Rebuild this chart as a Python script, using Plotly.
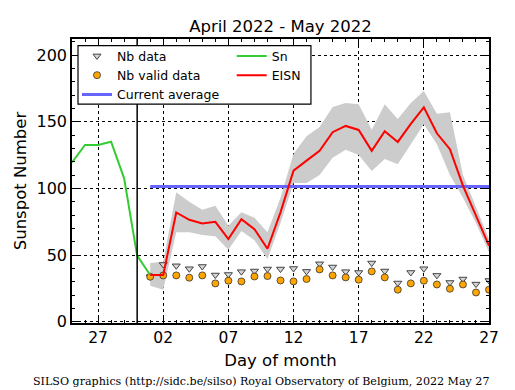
import plotly.graph_objects as go
import pandas as pd

# ---------------- data ----------------
sn_dates = pd.date_range("2022-04-25", "2022-05-01", freq="D")
sn_values = [119.5, 132.5, 132.5, 135.0, 107.5, 49.5, 35.0]

days = pd.date_range("2022-05-01", "2022-05-27", freq="D")
eisn = [35.0, 35.0, 81.9, 76.4, 73.6, 74.9, 61.9, 76.9, 69.4, 54.7,
        82.0, 113.3, 120.8, 128.1, 142.1, 146.8, 143.8, 128.1, 142.8, 134.8,
        148.3, 160.8, 141.3, 129.4, 102.0, 80.0, 57.0]
eisn_upper = [44, 45, 97, 90, 84, 87, 72, 82, 78, 67,
              93, 126, 139, 146, 161, 164, 163, 144, 163, 152,
              164, 173, 156, 157, 110, 86, 62]
eisn_lower = [27, 24, 67, 67, 65, 64, 54, 68, 61, 47,
              74, 104, 104, 110, 123, 129, 125, 113, 122, 118,
              133, 148, 133, 110, 93, 74, 52]
nb_data = [33.7, 42.9, 41.9, 39.7, 41.4, 35.0, 35.4, 37.5, 38.0, 39.5,
           39.5, 39.9, 37.7, 43.4, 41.0, 37.5, 36.9, 44.0, 38.0, 29.0,
           36.9, 39.7, 34.7, 29.4, 32.0, 28.2, 30.9]
nb_valid = [33.7, 34.7, 34.7, 33.0, 34.7, 28.7, 30.7, 30.2, 33.9, 34.2,
            30.9, 30.2, 32.0, 39.2, 34.7, 33.2, 31.5, 37.7, 33.2, 24.0,
            28.7, 30.7, 27.9, 24.7, 27.9, 21.9, 24.0]
current_average = 101.3
month_boundary = "2022-04-30"
x_range = ["2022-04-25", "2022-05-27"]
y_range = [-1, 212]
title_text = "April 2022 - May 2022"
footer_text = "SILSO graphics (http://sidc.be/silso) Royal Observatory of Belgium, 2022 May 27"

# ---------------- figure ----------------
FONT = "DejaVu Sans"
fig = go.Figure()

# uncertainty band
fig.add_trace(go.Scatter(x=days, y=eisn_lower, mode="lines", line=dict(width=0, color="#cccccc"),
                         showlegend=False, hoverinfo="skip"))
fig.add_trace(go.Scatter(x=days, y=eisn_upper, mode="lines", line=dict(width=0, color="#cccccc"),
                         fill="tonexty", fillcolor="#cccccc", showlegend=False, hoverinfo="skip"))

fig.add_trace(go.Scatter(x=days, y=nb_data, mode="markers", name="Nb data",
                         marker=dict(symbol="triangle-down", size=7, color="#d4d4d4",
                                     line=dict(color="#444444", width=1)),
                         legend="legend"))
fig.add_trace(go.Scatter(x=days, y=nb_valid, mode="markers", name="Nb valid data",
                         marker=dict(symbol="circle", size=7, color="orange",
                                     line=dict(color="#333333", width=0.8)),
                         legend="legend"))
fig.add_trace(go.Scatter(x=[days[0], days[-1]], y=[current_average, current_average],
                         mode="lines", name="Current average",
                         line=dict(color="rgb(102,102,255)", width=3), legend="legend"))
fig.add_trace(go.Scatter(x=sn_dates, y=sn_values, mode="lines", name="Sn",
                         line=dict(color="#33cc33", width=2), legend="legend2"))
fig.add_trace(go.Scatter(x=days, y=eisn, mode="lines", name="EISN",
                         line=dict(color="red", width=2), legend="legend2"))

# month boundary
fig.add_shape(type="line", xref="x", yref="paper", x0=month_boundary, x1=month_boundary,
              y0=0, y1=1, line=dict(color="black", width=1.5), layer="above")

# legend frame
fig.add_shape(type="rect", xref="paper", yref="paper", x0=0.0144, x1=0.573, y0=0.771, y1=0.977,
              line=dict(color="black", width=1.2), fillcolor="white", layer="above")

DAY = 86400000
fig.update_layout(
    width=515, height=390,
    margin=dict(l=72, r=26, t=39, b=67),
    paper_bgcolor="white", plot_bgcolor="white",
    font=dict(family=FONT, color="black", size=14),
    title=dict(text=title_text, x=(72 + 489) / 2 / 515, xanchor="center",
               y=1 - 26 / 390, yanchor="middle", yref="container",
               font=dict(size=16.5, family=FONT)),
    xaxis=dict(type="date", range=x_range, tick0="2022-04-27", dtick=5 * DAY,
               tickformat="%d", ticks="inside", ticklen=6, tickwidth=1, tickcolor="black",
               showline=True, linecolor="black", linewidth=1.5, mirror="allticks",
               showgrid=True, gridcolor="black", griddash="dot", gridwidth=1,
               zeroline=False, tickfont=dict(size=15.5),
               minor=dict(ticks="inside", ticklen=3, dtick=DAY, tick0="2022-04-27",
                          tickcolor="black", showgrid=False),
               title=dict(text="Day of month", font=dict(size=16.5), standoff=8)),
    yaxis=dict(range=y_range, dtick=50, tick0=0, ticks="inside", ticklen=6, tickwidth=1,
               tickcolor="black", showline=True, linecolor="black", linewidth=1.5,
               mirror="allticks", showgrid=True, gridcolor="black", griddash="dot",
               gridwidth=1, zeroline=False, tickfont=dict(size=16),
               minor=dict(ticks="inside", ticklen=3, dtick=10, tickcolor="black", showgrid=False),
               title=dict(text="Sunspot Number", font=dict(size=16.5), standoff=6)),
    legend=dict(x=0.012, y=0.992, xanchor="left", yanchor="top", bgcolor="rgba(0,0,0,0)",
                borderwidth=0, font=dict(size=12.5, family=FONT), tracegroupgap=0,
                itemwidth=30, traceorder="normal"),
    legend2=dict(x=0.383, y=0.992, xanchor="left", yanchor="top", bgcolor="rgba(0,0,0,0)",
                 borderwidth=0, font=dict(size=12.5, family=FONT), tracegroupgap=0,
                 itemwidth=30, traceorder="normal"),
    showlegend=True,
)

fig.add_annotation(text=footer_text, xref="paper", yref="paper",
                   x=(261 - 72) / 417, y=-(381 - 323) / 284, xanchor="center", yanchor="middle",
                   showarrow=False, font=dict(family="DejaVu Serif", size=11.1, color="black"))

fig.write_html("out.html", config={"displayModeBar": False},
               post_script="document.body.style.margin='0';")
